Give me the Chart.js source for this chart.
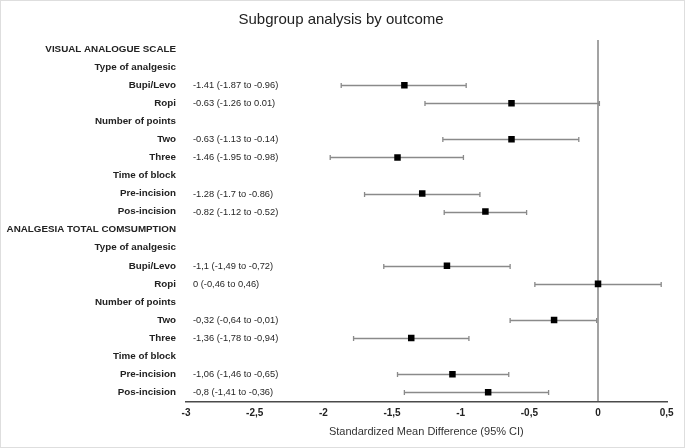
<!DOCTYPE html>
<html>
<head>
<meta charset="utf-8">
<script src="https://cdn.jsdelivr.net/npm/chart.js@4"></script>
<style>
  body { margin: 0; background: #fff; }
  #wrap { position: relative; width: 685px; height: 448px; box-shadow: inset 0 0 0 1px #dedede; }
  canvas { position: absolute; left: 0; top: 0; }
</style>
</head>
<body>
<div id="wrap"><canvas id="forest" width="685" height="448"></canvas></div>
<script>
// rows from top to bottom
const rowLabels = [
  'VISUAL ANALOGUE SCALE', 'Type of analgesic', 'Bupi/Levo', 'Ropi',
  'Number of points', 'Two', 'Three', 'Time of block', 'Pre-incision', 'Pos-incision',
  'ANALGESIA TOTAL COMSUMPTION', 'Type of analgesic', 'Bupi/Levo', 'Ropi',
  'Number of points', 'Two', 'Three', 'Time of block', 'Pre-incision', 'Pos-incision'
];
const estimateRows = [2, 3, 5, 6, 8, 9, 12, 13, 15, 16, 18, 19];
const estimates = [-1.41, -0.63, -0.63, -1.46, -1.28, -0.82, -1.1, 0, -0.32, -1.36, -1.06, -0.8];
const lowerCI = [-1.87, -1.26, -1.13, -1.95, -1.7, -1.12, -1.56, -0.46, -0.64, -1.78, -1.46, -1.41];
const upperCI = [-0.96, 0.01, -0.14, -0.98, -0.86, -0.52, -0.64, 0.46, -0.01, -0.94, -0.65, -0.36];
const ciLabels = [
  '-1.41 (-1.87 to -0.96)', '-0.63 (-1.26 to 0.01)', '-0.63 (-1.13 to -0.14)',
  '-1.46 (-1.95 to -0.98)', '-1.28 (-1.7 to -0.86)', '-0.82 (-1.12 to -0.52)',
  '-1,1 (-1,49 to -0,72)', '0 (-0,46 to 0,46)', '-0,32 (-0,64 to -0,01)',
  '-1,36 (-1,78 to -0,94)', '-1,06 (-1,46 to -0,65)', '-0,8 (-1,41 to -0,36)'
];
const xTicks = [-3, -2.5, -2, -1.5, -1, -0.5, 0, 0.5];

const fontFamily = "'Liberation Sans', Arial, sans-serif";

const points = estimates.map((v, i) => ({ x: v, y: estimateRows[i] }));

// whiskers + CI text, positioned with the chart's own scales
const errorBars = {
  id: 'errorBars',
  beforeDatasetsDraw(chart) {
    const { ctx, scales: { x, y } } = chart;
    ctx.save();
    ctx.strokeStyle = '#8a8a8a';
    ctx.lineWidth = 1.3;
    estimateRows.forEach((row, i) => {
      const py = Math.round(y.getPixelForValue(row)) + 0.5;
      const x1 = x.getPixelForValue(lowerCI[i]);
      const x2 = x.getPixelForValue(upperCI[i]);
      ctx.beginPath();
      ctx.moveTo(x1, py); ctx.lineTo(x2, py);
      ctx.moveTo(x1, py - 2.5); ctx.lineTo(x1, py + 2.5);
      ctx.moveTo(x2, py - 2.5); ctx.lineTo(x2, py + 2.5);
      ctx.stroke();
    });
    ctx.fillStyle = '#262626';
    ctx.font = '9.3px ' + fontFamily;
    ctx.textAlign = 'left';
    ctx.textBaseline = 'middle';
    estimateRows.forEach((row, i) => {
      ctx.fillText(ciLabels[i], 193, y.getPixelForValue(row) + 0.5);
    });
    ctx.restore();
  }
};

new Chart(document.getElementById('forest'), {
  type: 'scatter',
  data: {
    datasets: [{
      data: points,
      pointStyle: 'rect',
      pointRadius: 4.6,
      pointHoverRadius: 4.6,
      backgroundColor: '#000',
      borderColor: '#000',
      borderWidth: 0
    }]
  },
  options: {
    responsive: false,
    animation: false,
    layout: { padding: { left: 0, right: 3, top: 0, bottom: 9.5 } },
    scales: {
      x: {
        type: 'linear',
        min: -3,
        max: 0.5,
        afterBuildTicks(scale) { scale.ticks = xTicks.map(v => ({ value: v })); },
        ticks: {
          padding: 8.5,
          color: '#222',
          font: { family: fontFamily, size: 10, weight: 'bold', lineHeight: 0.7 },
          callback: v => String(v).replace('.', ','),
          maxRotation: 0,
          autoSkip: false
        },
        grid: {
          drawTicks: false,
          color: c => (c.tick && c.tick.value === 0 ? '#a3a3a3' : 'transparent'),
          lineWidth: 2
        },
        border: { display: true, color: '#4a4a4a', width: 1.4 },
        title: {
          display: true,
          text: 'Standardized Mean Difference (95% CI)',
          color: '#333',
          font: { family: fontFamily, size: 11 },
          padding: { top: 0, bottom: 0 }
        }
      },
      y: {
        type: 'linear',
        min: -0.5,
        max: 19.5,
        reverse: true,
        afterFit(scale) { scale.width = 186; },
        afterBuildTicks(scale) { scale.ticks = rowLabels.map((_, i) => ({ value: i })); },
        ticks: {
          padding: 10,
          autoSkip: false,
          color: '#222',
          font: { family: fontFamily, size: 9.8, weight: 'bold' },
          callback: v => rowLabels[v]
        },
        grid: { display: false, drawTicks: false },
        border: { display: false }
      },
      // empty right-hand axis: keeps the plot's right edge where the reference has it
      yRight: {
        type: 'linear',
        position: 'right',
        min: -0.5,
        max: 19.5,
        afterFit(scale) { scale.width = 15.3; },
        ticks: { display: false },
        grid: { display: false, drawTicks: false },
        border: { display: false }
      }
    },
    plugins: {
      legend: { display: false },
      tooltip: { enabled: false },
      title: {
        display: true,
        text: 'Subgroup analysis by outcome',
        color: '#222',
        font: { family: fontFamily, size: 15, weight: 'normal' },
        padding: { top: 11, bottom: 11 }
      }
    }
  },
  plugins: [errorBars]
});
</script>
</body>
</html>
